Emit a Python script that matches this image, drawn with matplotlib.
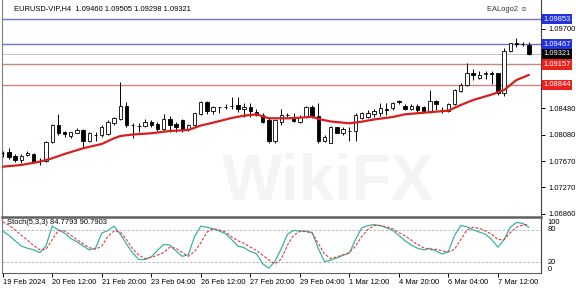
import numpy as np
import matplotlib
matplotlib.use("Agg")
import matplotlib.pyplot as plt
from matplotlib.transforms import blended_transform_factory

plt.rcParams["font.family"] = ["Liberation Sans", "DejaVu Sans"]

# EURUSD H4 candles (first bar 19 Feb 04:00)
opens = [1.07796, 1.07816, 1.07750, 1.07689, 1.07761, 1.07781, 1.07681, 1.07678, 1.07970, 1.08226,
         1.08123, 1.08062, 1.08108, 1.08149, 1.07985, 1.08073, 1.08073, 1.08088, 1.08252, 1.08318,
         1.08518, 1.08226, 1.08211, 1.08211, 1.08268, 1.08237, 1.08160, 1.08314, 1.08237, 1.08303,
         1.08160, 1.08226, 1.08395, 1.08575, 1.08446, 1.08495, 1.08507, 1.08518, 1.08533, 1.08467,
         1.08498, 1.08430, 1.08380, 1.08303, 1.07985, 1.08277, 1.08380, 1.08329, 1.08277, 1.08344,
         1.08498, 1.08364, 1.07985, 1.07954, 1.08191, 1.08108, 1.08139, 1.08139, 1.08338, 1.08354,
         1.08390, 1.08406, 1.08467, 1.08483, 1.08590, 1.08518, 1.08472, 1.08518, 1.08507, 1.08446,
         1.08595, 1.08460, 1.08446, 1.08549, 1.08753, 1.08840, 1.09020, 1.08943, 1.09004, 1.09020,
         1.09020, 1.08713, 1.09367, 1.09480, 1.09473, 1.09460]
highs = [1.07827, 1.07873, 1.07781, 1.07781, 1.07832, 1.07792, 1.07720, 1.07985, 1.08242, 1.08390,
         1.08139, 1.08123, 1.08185, 1.08160, 1.08123, 1.08114, 1.08226, 1.08303, 1.08354, 1.08882,
         1.08575, 1.08252, 1.08252, 1.08314, 1.08303, 1.08277, 1.08390, 1.08364, 1.08277, 1.08314,
         1.08237, 1.08415, 1.08595, 1.08595, 1.08522, 1.08507, 1.08544, 1.08661, 1.08651, 1.08559,
         1.08559, 1.08467, 1.08415, 1.08354, 1.08314, 1.08467, 1.08415, 1.08415, 1.08380, 1.08518,
         1.08533, 1.08559, 1.08073, 1.08211, 1.08200, 1.08200, 1.08200, 1.08415, 1.08421, 1.08456,
         1.08467, 1.08559, 1.08569, 1.08584, 1.08610, 1.08549, 1.08549, 1.08549, 1.08518, 1.08763,
         1.08610, 1.08507, 1.08559, 1.08774, 1.08866, 1.09173, 1.09081, 1.09060, 1.09060, 1.09060,
         1.09029, 1.09404, 1.09490, 1.09557, 1.09505, 1.09505]
lows = [1.07730, 1.07704, 1.07663, 1.07647, 1.07750, 1.07647, 1.07612, 1.07663, 1.07954, 1.08073,
        1.08037, 1.08031, 1.08099, 1.07869, 1.07961, 1.07981, 1.08047, 1.08073, 1.08226, 1.08303,
        1.08200, 1.08022, 1.08123, 1.08191, 1.08200, 1.08139, 1.08139, 1.08123, 1.08123, 1.08123,
        1.08139, 1.08200, 1.08380, 1.08390, 1.08390, 1.08415, 1.08467, 1.08467, 1.08430, 1.08354,
        1.08354, 1.08364, 1.08252, 1.07954, 1.07954, 1.08226, 1.08354, 1.08277, 1.08262, 1.08329,
        1.08329, 1.07954, 1.07970, 1.07945, 1.08099, 1.08073, 1.07985, 1.07985, 1.08314, 1.08329,
        1.08354, 1.08364, 1.08380, 1.08456, 1.08549, 1.08456, 1.08456, 1.08430, 1.08430, 1.08415,
        1.08456, 1.08415, 1.08430, 1.08533, 1.08737, 1.08825, 1.08917, 1.08928, 1.08928, 1.08856,
        1.08687, 1.08671, 1.09351, 1.09428, 1.09439, 1.09298]
closes = [1.07789, 1.07730, 1.07689, 1.07755, 1.07792, 1.07663, 1.07677, 1.07970, 1.08226, 1.08108,
          1.08083, 1.08114, 1.08149, 1.07985, 1.08099, 1.08068, 1.08191, 1.08277, 1.08329, 1.08518,
          1.08226, 1.08222, 1.08206, 1.08277, 1.08222, 1.08160, 1.08314, 1.08226, 1.08191, 1.08149,
          1.08226, 1.08406, 1.08575, 1.08446, 1.08507, 1.08499, 1.08502, 1.08513, 1.08467, 1.08507,
          1.08446, 1.08380, 1.08277, 1.07985, 1.08303, 1.08380, 1.08375, 1.08288, 1.08344, 1.08498,
          1.08364, 1.07985, 1.08047, 1.08200, 1.08108, 1.08160, 1.08134, 1.08380, 1.08406, 1.08415,
          1.08446, 1.08483, 1.08463, 1.08569, 1.08579, 1.08476, 1.08518, 1.08456, 1.08446, 1.08595,
          1.08549, 1.08455, 1.08549, 1.08763, 1.08840, 1.09020, 1.08994, 1.08994, 1.09029, 1.09015,
          1.08713, 1.09367, 1.09480, 1.09475, 1.09462, 1.09321]

# moving average
ma_bar = [0, 3, 6, 8, 10, 13, 16, 18, 19, 21, 24, 27, 30, 32, 34, 37, 39, 41, 43, 46, 48, 50, 51,
          53, 56, 58, 60, 63, 65, 68, 72, 74, 76, 79, 81, 83, 85]
ma_val = [1.07586, 1.07612, 1.07663, 1.07715, 1.07781, 1.07869, 1.07935, 1.08022, 1.08057, 1.08080,
          1.08099, 1.08134, 1.08149, 1.08218, 1.08262, 1.08334, 1.08369, 1.08390, 1.08329, 1.08329,
          1.08338, 1.08354, 1.08318, 1.08280, 1.08252, 1.08277, 1.08311, 1.08349, 1.08390, 1.08415,
          1.08446, 1.08533, 1.08610, 1.08694, 1.08763, 1.08917, 1.08994]

# Stochastic (5,3,3)
stoch_main = [78, 70, 60, 50, 46, 43, 38, 50, 87, 80, 74, 64, 58, 50, 43, 46, 74, 79, 87, 72,
              54, 37, 25, 25, 30, 42, 53, 52, 41, 31, 34, 68, 87, 85, 82, 78, 73, 62, 50, 47,
              40, 36, 17, 9, 22, 45, 72, 79, 78, 78, 75, 45, 21, 24, 28, 33, 37, 62, 84, 88,
              90, 88, 84, 79, 70, 60, 52, 46, 43, 46, 41, 35, 40, 70, 88, 86, 80, 76, 72, 62,
              48, 62, 85, 94, 92, 84.78]
stoch_sig = [95, 89, 80, 70, 61, 51, 43, 44, 62, 79, 78, 70, 62, 54, 47, 44, 50, 68, 78, 76,
             62, 45, 33, 27, 29, 33, 38, 48, 46, 38, 31, 40, 56, 76, 82, 80, 76, 67, 60, 55,
             48, 42, 33, 24, 17, 26, 52, 70, 77, 77, 74, 55, 35, 27, 30, 34, 38, 50, 68, 81,
             88, 88, 86, 82, 75, 69, 61, 53, 47, 43, 44, 41, 39, 44, 62, 80, 85, 83, 78, 72,
             62, 62, 75, 85, 89, 90.79]

levels = [1.09853, 1.09467, 1.09157, 1.08844]
level_kind = ["blue", "blue", "red", "red"]
last_price = 1.09321
price_ticks = [1.09700, 1.08480, 1.08080, 1.07670, 1.07270, 1.06860]
date_bars = [0, 8, 16, 24, 32, 40, 48, 56, 64, 72, 80]
date_labels = ["19 Feb 2024", "20 Feb 12:00", "21 Feb 20:00", "23 Feb 04:00", "26 Feb 12:00",
               "27 Feb 20:00", "29 Feb 04:00", "1 Mar 12:00", "4 Mar 20:00", "6 Mar 04:00",
               "7 Mar 12:00"]

W, H = 576, 291
FS = 5.4
LINE_COL = {"blue": "#7272c4", "red": "#cc8484"}
BOX_COL = {"blue": "#2233dd", "red": "#e8231e"}


def rect(x0, y0, x1, y1):
    return [x0 / W, 1 - y1 / H, (x1 - x0) / W, (y1 - y0) / H]


fig = plt.figure(figsize=(W / 100, H / 100), dpi=100, facecolor="white")

# faint watermark
fig.text(0.57, 0.37, "WikiFX", fontsize=46, fontweight="bold", color="#f4f4f4",
         ha="center", va="center", zorder=0)

ax = fig.add_axes(rect(2, 0, 541, 216))
ax2 = fig.add_axes(rect(2, 217, 541, 273), sharex=ax)
for a in (ax, ax2):
    a.set_facecolor("none")

x = np.arange(len(opens))
o, h, l, c = map(np.array, (opens, highs, lows, closes))
up = c >= o
ax.vlines(x, l, h, color="black", lw=0.7, zorder=3)
body_lo = np.minimum(o, c)
body_h = np.maximum(np.abs(c - o), 0.00002)
ax.bar(x, body_h, bottom=body_lo, width=0.55, color=np.where(up, "white", "black"),
       edgecolor="black", linewidth=0.6, zorder=4)

ax.plot(ma_bar, ma_val, color="#d91e1e", lw=1.6, zorder=5, solid_capstyle="round")

for lev, kind in zip(levels, level_kind):
    ax.axhline(lev, color=LINE_COL[kind], lw=1.0, zorder=1)
ax.axhline(last_price, color="#c4c4c4", lw=0.7, zorder=1)

ax.set_xlim(-0.11, 86.96)
ax.set_ylim(1.06829, 1.10145)

ax.yaxis.tick_right()
ax.set_yticks(price_ticks)
ax.set_yticklabels([f"{p:.5f}" for p in price_ticks])
ax.tick_params(axis="y", direction="out", length=3, width=0.7, labelsize=FS, pad=2)
ax.tick_params(axis="x", bottom=False, labelbottom=False)
ax.spines["top"].set_visible(False)
ax.spines["bottom"].set_visible(False)
ax.spines["left"].set_color("#808080")
ax.spines["right"].set_color("#404040")

tr = blended_transform_factory(ax.transAxes, ax.transData)
for lev, kind in zip(levels, level_kind):
    ax.text(1.004, lev, f"{lev:.5f}", transform=tr, fontsize=FS, color="white", ha="left",
            va="center", bbox=dict(boxstyle="square,pad=0.22", fc=BOX_COL[kind], ec="none"),
            zorder=10, clip_on=False)
ax.text(1.004, last_price, f"{last_price:.5f}", transform=tr, fontsize=FS, color="white",
        ha="left", va="center", bbox=dict(boxstyle="square,pad=0.22", fc="black", ec="none"),
        zorder=10, clip_on=False)

ax.text(0.022, 0.975, "EURUSD-VIP,H4  1.09460 1.09505 1.09298 1.09321", transform=ax.transAxes,
        fontsize=FS, ha="left", va="top")
ax.text(0.9, 0.97, "EALogo2 \u263a", transform=ax.transAxes, fontsize=FS, ha="left", va="top",
        color="#333333")

# stochastic panel
ax2.plot(x, stoch_main, color="#3ab3a2", lw=0.9, zorder=3)
ax2.plot(x, stoch_sig, color="#e03c3c", lw=0.8, ls=(0, (2.5, 1.5)), zorder=3)
for lv in (80, 20):
    ax2.axhline(lv, color="#b0b0b0", lw=0.6, ls=(0, (3, 2)), zorder=1)
ax2.set_ylim(0, 104)
ax2.set_yticks([])
for s in ("top", "bottom"):
    ax2.spines[s].set_color("#606060")
ax2.spines["top"].set_linewidth(1.8)
ax2.spines["left"].set_color("#808080")
ax2.spines["right"].set_color("#404040")
tr2 = blended_transform_factory(ax2.transAxes, ax2.transData)
for v, lab, va in [(100, "100", "top"), (80, "80", "center"), (20, "20", "center"), (0, "0", "bottom")]:
    ax2.text(1.012, v, lab, transform=tr2, fontsize=FS, ha="left", va=va, clip_on=False)
ax2.text(0.01, 0.97, "Stoch(5,3,3) 84.7793 90.7903", transform=ax2.transAxes, fontsize=FS,
         ha="left", va="top")

ax2.set_xticks(date_bars)
ax2.set_xticklabels(date_labels, ha="left")
ax2.tick_params(axis="x", direction="out", length=3, width=0.7, labelsize=FS, pad=1.5, labelbottom=True)

fig.savefig("out.png", dpi=100)
